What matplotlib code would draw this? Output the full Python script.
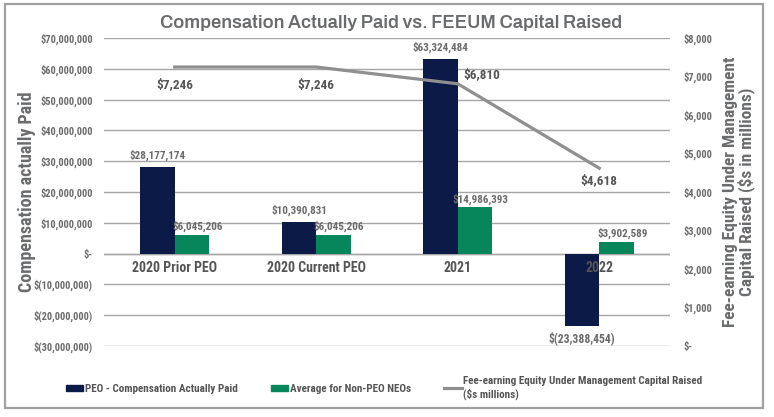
import matplotlib.pyplot as plt
import matplotlib.patches as mpatches
from matplotlib.lines import Line2D
import numpy as np

# Chart data
categories = ['2020 Prior PEO', '2020 Current PEO', '2021', '2022']
peo_cap = [28177174, 10390831, 63324484, -23388454]
neo_avg = [6045206, 6045206, 14986393, 3902589]
feeum_raised = [7246, 7246, 6810, 4618]

navy = '#0b1a47'
green = '#07865c'
line_gray = '#8f8f8f'
text_gray = '#6a6b6d'
tick_gray = '#6b6b6b'
font = ['Roboto Condensed', 'DejaVu Sans']
title_font = ['Archivo', 'Roboto', 'DejaVu Sans']
plt.rcParams['font.family'] = font


def money(v):
    if v == 0:
        return '$-'
    if v < 0:
        return f'$({abs(v):,.0f})'
    return f'${v:,.0f}'


fig = plt.figure(figsize=(7.74, 4.17), dpi=100)
ax = fig.add_axes([0.1344, 0.1703, 0.7313, 0.7386])
ax2 = ax.twinx()

x = np.arange(len(categories))
w = 0.245
ax.bar(x - w / 2, peo_cap, w, color=navy, zorder=3)
ax.bar(x + w / 2, neo_avg, w, color=green, zorder=3)

ax.set_xlim(-0.5, len(categories) - 0.5)
ax.set_ylim(-30e6, 70e6)
ax.set_yticks(np.arange(-30e6, 70e6 + 1, 10e6))
ax.set_yticklabels([money(v) for v in np.arange(-30e6, 70e6 + 1, 10e6)],
                   fontsize=7.5, fontweight='bold', color=tick_gray)
ax.set_axisbelow(True)
ax.grid(axis='y', color='#a6a6a6', linewidth=1)
ax.tick_params(axis='y', length=0, pad=8)
ax.axhline(0, color='#a6a6a6', linewidth=1, zorder=1)

# category labels sit just under the zero line, drawn over the bars
ax.set_xticks([])
for i, c in enumerate(categories):
    ax.annotate(c, (x[i], 0), xytext=(0, -5), textcoords='offset points',
                ha='center', va='top', fontsize=10, fontweight='bold', color='#555555', zorder=6)
for s in ['top', 'left', 'right', 'bottom']:
    ax.spines[s].set_visible(False)
    ax2.spines[s].set_visible(False)

# bar labels
for i, v in enumerate(peo_cap):
    if v >= 0:
        ax.annotate(money(v), (x[i] - w / 2, v), xytext=(0, 4), textcoords='offset points',
                    ha='center', va='bottom', fontsize=8, fontweight='bold', color=tick_gray)
    else:
        ax.annotate(money(v), (x[i] - w / 2, v), xytext=(0, -4), textcoords='offset points',
                    ha='center', va='top', fontsize=8.5, fontweight='bold', color=tick_gray)
for i, v in enumerate(neo_avg):
    ax.annotate(money(v), (x[i] + w / 2, v), xytext=(4, 2), textcoords='offset points',
                ha='center', va='bottom', fontsize=8, fontweight='bold', color=tick_gray)

# line on the right axis
ax2.plot(x, feeum_raised, color=line_gray, linewidth=2.3, zorder=4)
ax2.set_ylim(0, 8000)
ax2.set_yticks(np.arange(0, 8001, 1000))
ax2.set_yticklabels([money(v) for v in np.arange(0, 8001, 1000)],
                    fontsize=7.5, fontweight='bold', color=tick_gray)
ax2.tick_params(axis='y', length=0, pad=10)

line_offsets = [(0, -8, 'center', 'top'), (0, -8, 'center', 'top'),
                (4, 2, 'left', 'bottom'), (0, -4, 'center', 'top')]
for i, v in enumerate(feeum_raised):
    dx, dy, ha, va = line_offsets[i]
    ax2.annotate(money(v), (x[i], v), xytext=(dx, dy), textcoords='offset points',
                 ha=ha, va=va, fontsize=9.5, fontweight='bold', color='#555555')

ax.set_ylabel('Compensation actually Paid', fontsize=13, fontweight='bold', color=text_gray)
ax.yaxis.set_label_coords(-0.12, 0.5)
ax2.set_ylabel('Fee-earning Equity Under Management\nCapital Raised ($s in millions)',
               fontsize=12.5, fontweight='bold', color=text_gray, linespacing=0.95)
ax2.yaxis.set_label_coords(1.094, 0.5)

fig.text(0.505, 0.945, 'Compensation Actually Paid vs. FEEUM Capital Raised',
         ha='center', va='center', fontsize=13.2, fontweight='bold', color=text_gray,
         family=title_font)

# legend
handles = [mpatches.Patch(color=navy), mpatches.Patch(color=green),
           Line2D([0], [0], color=line_gray, linewidth=2.3)]
labels = ['PEO - Compensation Actually Paid', 'Average for Non-PEO NEOs',
          'Fee-earning Equity Under Management Capital Raised\n($s millions)']
leg = fig.legend(handles, labels, loc='center', bbox_to_anchor=(0.496, 0.07), ncol=3,
                 frameon=False, handlelength=1.6, handleheight=0.5, handletextpad=0.1,
                 columnspacing=3.0, prop={'family': font, 'weight': 'bold', 'size': 8})
for t in leg.get_texts():
    t.set_color('#555555')

# outer frame
fig.patches.append(mpatches.Rectangle((5 / 774, 9 / 417), 758 / 774, 404 / 417,
                                      transform=fig.transFigure, fill=False,
                                      edgecolor='#a0a0a0', linewidth=1.6))

fig.savefig('out.png', dpi=100)
